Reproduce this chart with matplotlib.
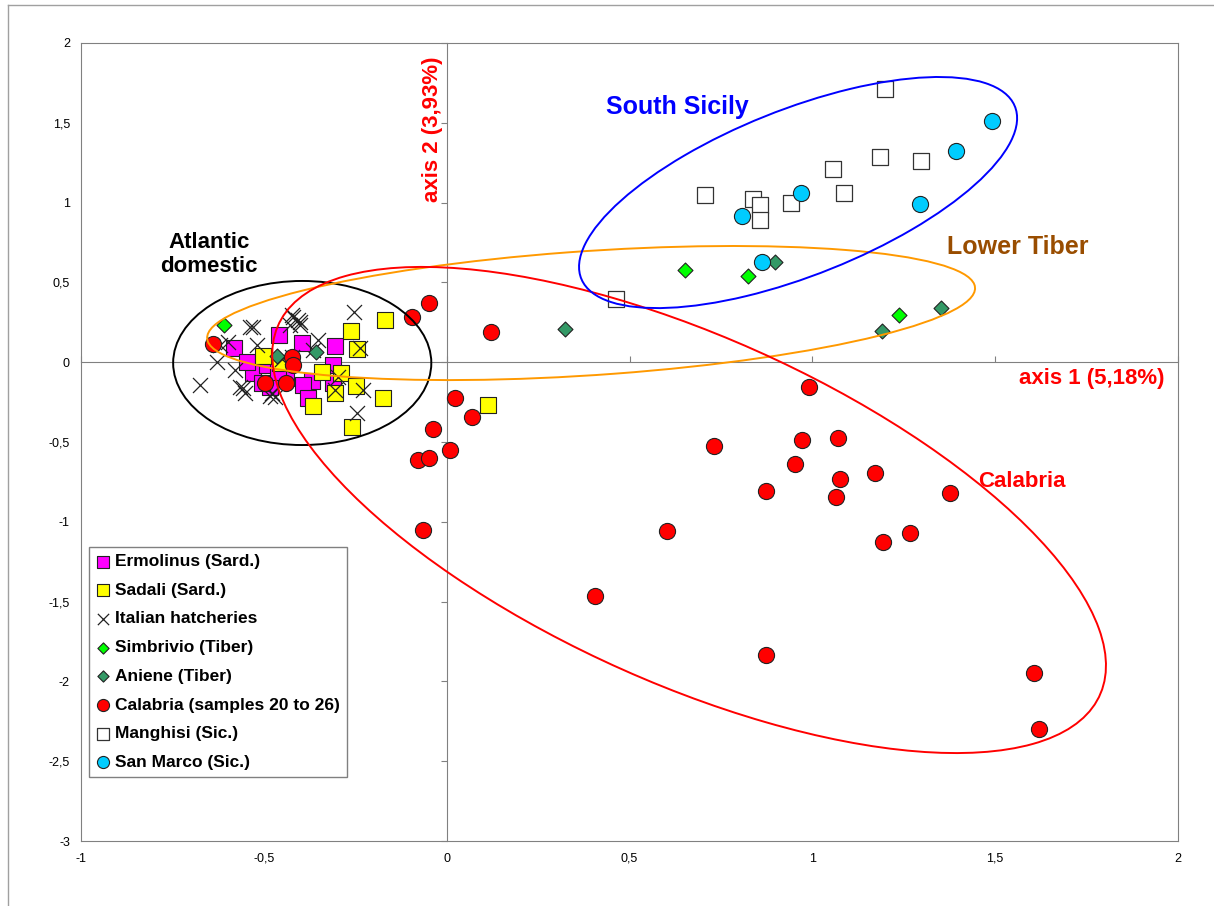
import numpy as np
import matplotlib
matplotlib.use("Agg")
import matplotlib.pyplot as plt
from matplotlib.patches import Ellipse
from matplotlib.lines import Line2D

plt.rcParams['font.family'] = ['Liberation Sans', 'DejaVu Sans']

# --- data (axis 1, axis 2) ---
ermolinus_x = [-0.458, -0.396, -0.306, -0.311, -0.368, -0.393, -0.379, -0.311, -0.483,
               -0.519, -0.581, -0.53, -0.505, -0.545, -0.49, -0.44, -0.46]
ermolinus_y = [0.171, 0.12, 0.10, -0.02, -0.118, -0.143, -0.224, -0.13, -0.155,
               -0.005, 0.09, -0.067, -0.13, 0.0, -0.02, -0.10, -0.06]

sadali_x = [-0.169, -0.262, -0.245, -0.34, -0.289, -0.248, -0.305, -0.174, -0.365,
            -0.259, 0.113, -0.502, -0.456]
sadali_y = [0.264, 0.195, 0.083, -0.06, -0.068, -0.149, -0.195, -0.225, -0.275,
            -0.405, -0.27, 0.04, -0.005]

hatch_x = [-0.253, -0.42, -0.406, -0.428, -0.401, -0.351, -0.237, -0.529, -0.228, -0.245,
           -0.305, -0.297, -0.423, -0.366, -0.538, -0.598, -0.519, -0.628, -0.675, -0.556,
           -0.551, -0.477, -0.469, -0.62, -0.423, -0.40, -0.565, -0.483, -0.58, -0.45]
hatch_y = [0.314, 0.283, 0.264, 0.233, 0.233, 0.14, 0.09, 0.22, -0.175, -0.318,
           -0.175, -0.093, 0.033, 0.077, 0.22, 0.127, 0.108, 0.0, -0.143, -0.16,
           -0.193, -0.193, -0.217, 0.108, 0.295, 0.25, -0.155, -0.21, -0.05, 0.02]

simbrivio_x = [-0.609, 0.652, 0.824, 1.237]
simbrivio_y = [0.233, 0.578, 0.54, 0.296]

aniene_x = [0.898, 1.352, 1.19, 0.324, -0.357, -0.464]
aniene_y = [0.628, 0.34, 0.196, 0.208, 0.064, 0.039]

calabria_x = [-0.638, -0.423, -0.42, -0.497, -0.439, -0.095, -0.048, 0.121, 0.023, 0.069,
              -0.037, 0.009, -0.078, -0.048, -0.064, 0.405, 0.602, 0.731, 0.971, 1.069,
              0.953, 0.873, 1.075, 1.065, 1.172, 1.377, 1.266, 1.193, 0.873, 1.606,
              1.62, 0.99]
calabria_y = [0.114, 0.033, -0.017, -0.13, -0.13, 0.283, 0.373, 0.19, -0.225, -0.343,
              -0.418, -0.55, -0.61, -0.60, -1.05, -1.466, -1.06, -0.525, -0.486, -0.473,
              -0.64, -0.804, -0.733, -0.847, -0.697, -0.82, -1.071, -1.129, -1.835, -1.947,
              -2.30, -0.155]

manghisi_x = [1.198, 0.706, 0.838, 0.857, 0.857, 0.942, 1.056, 1.086, 1.185, 1.297, 0.463]
manghisi_y = [1.711, 1.045, 1.02, 0.985, 0.89, 0.995, 1.21, 1.06, 1.285, 1.26, 0.396]

sanmarco_x = [1.491, 1.393, 1.294, 0.969, 0.808, 0.863]
sanmarco_y = [1.511, 1.323, 0.991, 1.060, 0.916, 0.628]

# group ellipses: centre, half extent in x and y, cross term
ellipse_names = ['Atlantic', 'Tiber', 'Calabria', 'Sicily']
ellipse_cx = [-0.395, 0.395, 0.663, 0.961]
ellipse_cy = [-0.005, 0.308, -0.926, 1.063]
ellipse_hx = [0.353, 1.050, 1.140, 0.599]
ellipse_hy = [0.514, 0.420, 1.523, 0.724]
ellipse_cxy = [0.0, 0.163, -1.111, 0.279]
ellipse_colors = ['black', '#FF9900', '#FF0000', '#0000FF']

fig = plt.figure(figsize=(12.14, 9.06), dpi=100)
ax = fig.add_axes([81 / 1214, 1 - 841 / 906, 1097 / 1214, 798 / 906])

edge = '#222222'
ax.scatter(ermolinus_x, ermolinus_y, marker='s', s=121, c='#FF00FF', edgecolors=edge,
           linewidths=0.8, label='Ermolinus (Sard.)', zorder=3)
ax.scatter(sadali_x, sadali_y, marker='s', s=121, c='#FFFF00', edgecolors=edge,
           linewidths=0.8, label='Sadali (Sard.)', zorder=3)
ax.scatter(hatch_x, hatch_y, marker='x', s=117, c='#222222', linewidths=0.9,
           label='Italian hatcheries', zorder=3)
ax.scatter(simbrivio_x, simbrivio_y, marker='D', s=58, c='#00FF00', edgecolors=edge,
           linewidths=0.8, label='Simbrivio (Tiber)', zorder=3)
ax.scatter(aniene_x, aniene_y, marker='D', s=58, c='#339966', edgecolors=edge,
           linewidths=0.8, label='Aniene (Tiber)', zorder=3)
ax.scatter(calabria_x, calabria_y, marker='o', s=135, c='#FF0000', edgecolors=edge,
           linewidths=0.8, label='Calabria (samples 20 to 26)', zorder=3)
ax.scatter(manghisi_x, manghisi_y, marker='s', s=121, c='white', edgecolors='#333333',
           linewidths=0.9, label='Manghisi (Sic.)', zorder=3)
ax.scatter(sanmarco_x, sanmarco_y, marker='o', s=135, c='#00CCFF', edgecolors=edge,
           linewidths=0.8, label='San Marco (Sic.)', zorder=3)

for cx, cy, hx, hy, cxy, col in zip(ellipse_cx, ellipse_cy, ellipse_hx, ellipse_hy,
                                    ellipse_cxy, ellipse_colors):
    cov = np.array([[hx ** 2, cxy], [cxy, hy ** 2]])
    vals, vecs = np.linalg.eigh(cov)
    ang = np.degrees(np.arctan2(vecs[1, 1], vecs[0, 1]))
    e = Ellipse((cx, cy), 2 * np.sqrt(vals[1]), 2 * np.sqrt(vals[0]), angle=ang,
                fill=False, edgecolor=col, lw=1.4, zorder=4)
    ax.add_patch(e)

ax.set_xlim(-1, 2)
ax.set_ylim(-3, 2)
xt = np.arange(-1, 2.01, 0.5)
yt = np.arange(-3, 2.01, 0.5)
ax.set_xticks(xt)
ax.set_yticks(yt)
fmt = lambda v: ('%g' % v).replace('.', ',')
ax.set_xticklabels([fmt(v) for v in xt])
ax.set_yticklabels([fmt(v) for v in yt])
ax.tick_params(length=0, labelsize=9, pad=8)
for lbl in ax.get_xticklabels():
    lbl.set_va('baseline')
ax.tick_params(axis='x', pad=15)
for sp in ax.spines.values():
    sp.set_color('#808080')

# axes crossing at zero, with their own ticks
secx = ax.secondary_xaxis(0.6)
secx.set_xticks(xt)
secx.set_xticklabels([])
secx.tick_params(direction='out', length=4, color='#808080')
for sp in secx.spines.values():
    sp.set_color('#808080')
secy = ax.secondary_yaxis(1 / 3)
secy.set_yticks(yt)
secy.set_yticklabels([])
secy.tick_params(direction='out', length=4, color='#808080')
for sp in secy.spines.values():
    sp.set_color('#808080')

# labels
ax.text(-0.04, 1.46, 'axis 2 (3,93%)', rotation=90, color='#FF0000', fontsize=16,
        fontweight='bold', ha='center', va='center')
ax.text(1.964, -0.1, 'axis 1 (5,18%)', color='#FF0000', fontsize=16,
        fontweight='bold', ha='right', va='center')
ax.text(0.63, 1.60, 'South Sicily', color='#0000FF', fontsize=18, fontweight='bold',
        ha='center', va='center')
ax.text(1.562, 0.72, 'Lower Tiber', color='#994D00', fontsize=18, fontweight='bold',
        ha='center', va='center')
ax.text(1.573, -0.745, 'Calabria', color='#FF0000', fontsize=16, fontweight='bold',
        ha='center', va='center')
ax.text(-0.65, 0.675, 'Atlantic\ndomestic', color='black', fontsize=16, fontweight='bold',
        ha='center', va='center', linespacing=1.2)

leg = ax.legend(loc='upper left', bbox_to_anchor=(89 / 1214, 1 - 547 / 906),
                bbox_transform=fig.transFigure, borderaxespad=0, fancybox=False,
                edgecolor='#808080', framealpha=1, markerscale=0.75,
                prop={'weight': 'bold', 'size': 12.5}, labelspacing=0.78,
                handlelength=0.8, handletextpad=0.3, borderpad=0.4)
leg.get_frame().set_linewidth(1.0)

# outer chart border
fig.add_artist(Line2D([8 / 1214, 8 / 1214], [0, 1 - 5 / 906], color='#A0A0A0', lw=1))
fig.add_artist(Line2D([8 / 1214, 1], [1 - 5 / 906, 1 - 5 / 906], color='#A0A0A0', lw=1))

fig.savefig('out.png', dpi=100)
